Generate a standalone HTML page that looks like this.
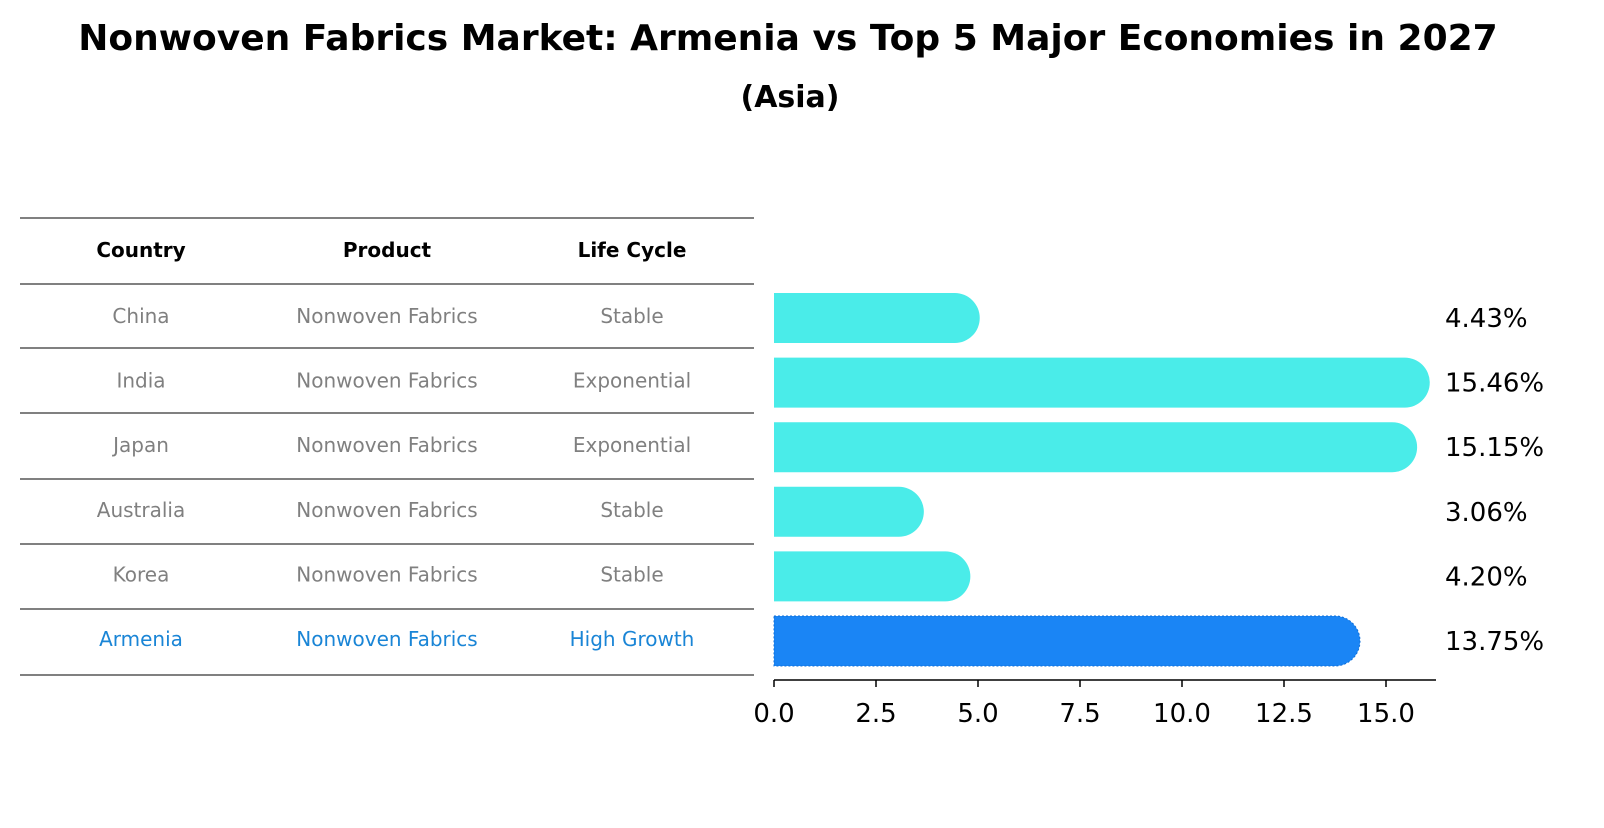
<!DOCTYPE html>
<html><head><meta charset="utf-8"><style>
body{margin:0;background:#fff;font-family:"Liberation Sans","DejaVu Sans",sans-serif;}
</style></head><body>
<svg width="1604" height="823" xmlns="http://www.w3.org/2000/svg" font-family="DejaVu Sans, Liberation Sans, sans-serif">
<text x="788" y="50" text-anchor="middle" font-size="36" font-weight="bold">Nonwoven Fabrics Market: Armenia vs Top 5 Major Economies in 2027</text>
<text x="790" y="107" text-anchor="middle" font-size="30" font-weight="bold">(Asia)</text>
<g id="table"></g>
<g id="bars"></g>
</svg>
<script>
const countries=["China","India","Japan","Australia","Korea","Armenia"];
const lifeCycles=["Stable","Exponential","Exponential","Stable","Stable","High Growth"];
const values=[4.43,15.46,15.15,3.06,4.20,13.75];
const ticks=[0,2.5,5,7.5,10,12.5,15];
const NS="http://www.w3.org/2000/svg";
function mk(t,a,p){const e=document.createElementNS(NS,t);for(const k in a)e.setAttribute(k,a[k]);p.appendChild(e);return e;}
const x=v=>774+v*40.8;
const rowY=i=>316+i*64.6;
const tbl=document.getElementById('table');
const lines=[218,284,348,413,479,544,609,675];
lines.forEach(y=>{const l=mk('line',{x1:20,x2:754,y1:y,y2:y,stroke:'#000','stroke-width':1},tbl);

});
const cols=[141,387,632];
["Country","Product","Life Cycle"].forEach((h,j)=>{const t=mk('text',{x:cols[j],y:257,'text-anchor':'middle','font-size':20,'font-weight':'bold'},tbl);t.textContent=h;

});
countries.forEach((c,i)=>{const col=i===countries.length-1?'#1a85d6':'#808080';
[c,"Nonwoven Fabrics",lifeCycles[i]].forEach((s,j)=>{const t=mk('text',{x:cols[j],y:rowY(i)+7,'text-anchor':'middle','font-size':20,fill:col},tbl);t.textContent=s;

});});
const g=document.getElementById('bars');
values.forEach((v,i)=>{const cy=rowY(i)+2,h=50,r=25;const last=i===values.length-1;
const xe=x(v);
const p=mk('path',{d:`M${x(0)},${cy-h/2} H${xe} A${r},${r} 0 0 1 ${xe},${cy+h/2} H${x(0)} Z`,fill:last?'#1a85f5':'#4aece9',stroke:last?'#0f6fd8':'none','stroke-dasharray':last?'2,2':'none','stroke-width':1},g);


const t=mk('text',{x:1445,y:cy+9,'font-size':26},g);t.textContent=v.toFixed(2)+'%';

});
const ax=mk('line',{x1:774,x2:1436,y1:680,y2:680,stroke:'#000','stroke-width':1.5},g);


ticks.forEach(tv=>{const l=mk('line',{x1:x(tv),x2:x(tv),y1:680,y2:687,stroke:'#000','stroke-width':1.5},g);


const t=mk('text',{x:x(tv),y:722,'text-anchor':'middle','font-size':26},g);t.textContent=tv.toFixed(1);

});
</script>
</body></html>
